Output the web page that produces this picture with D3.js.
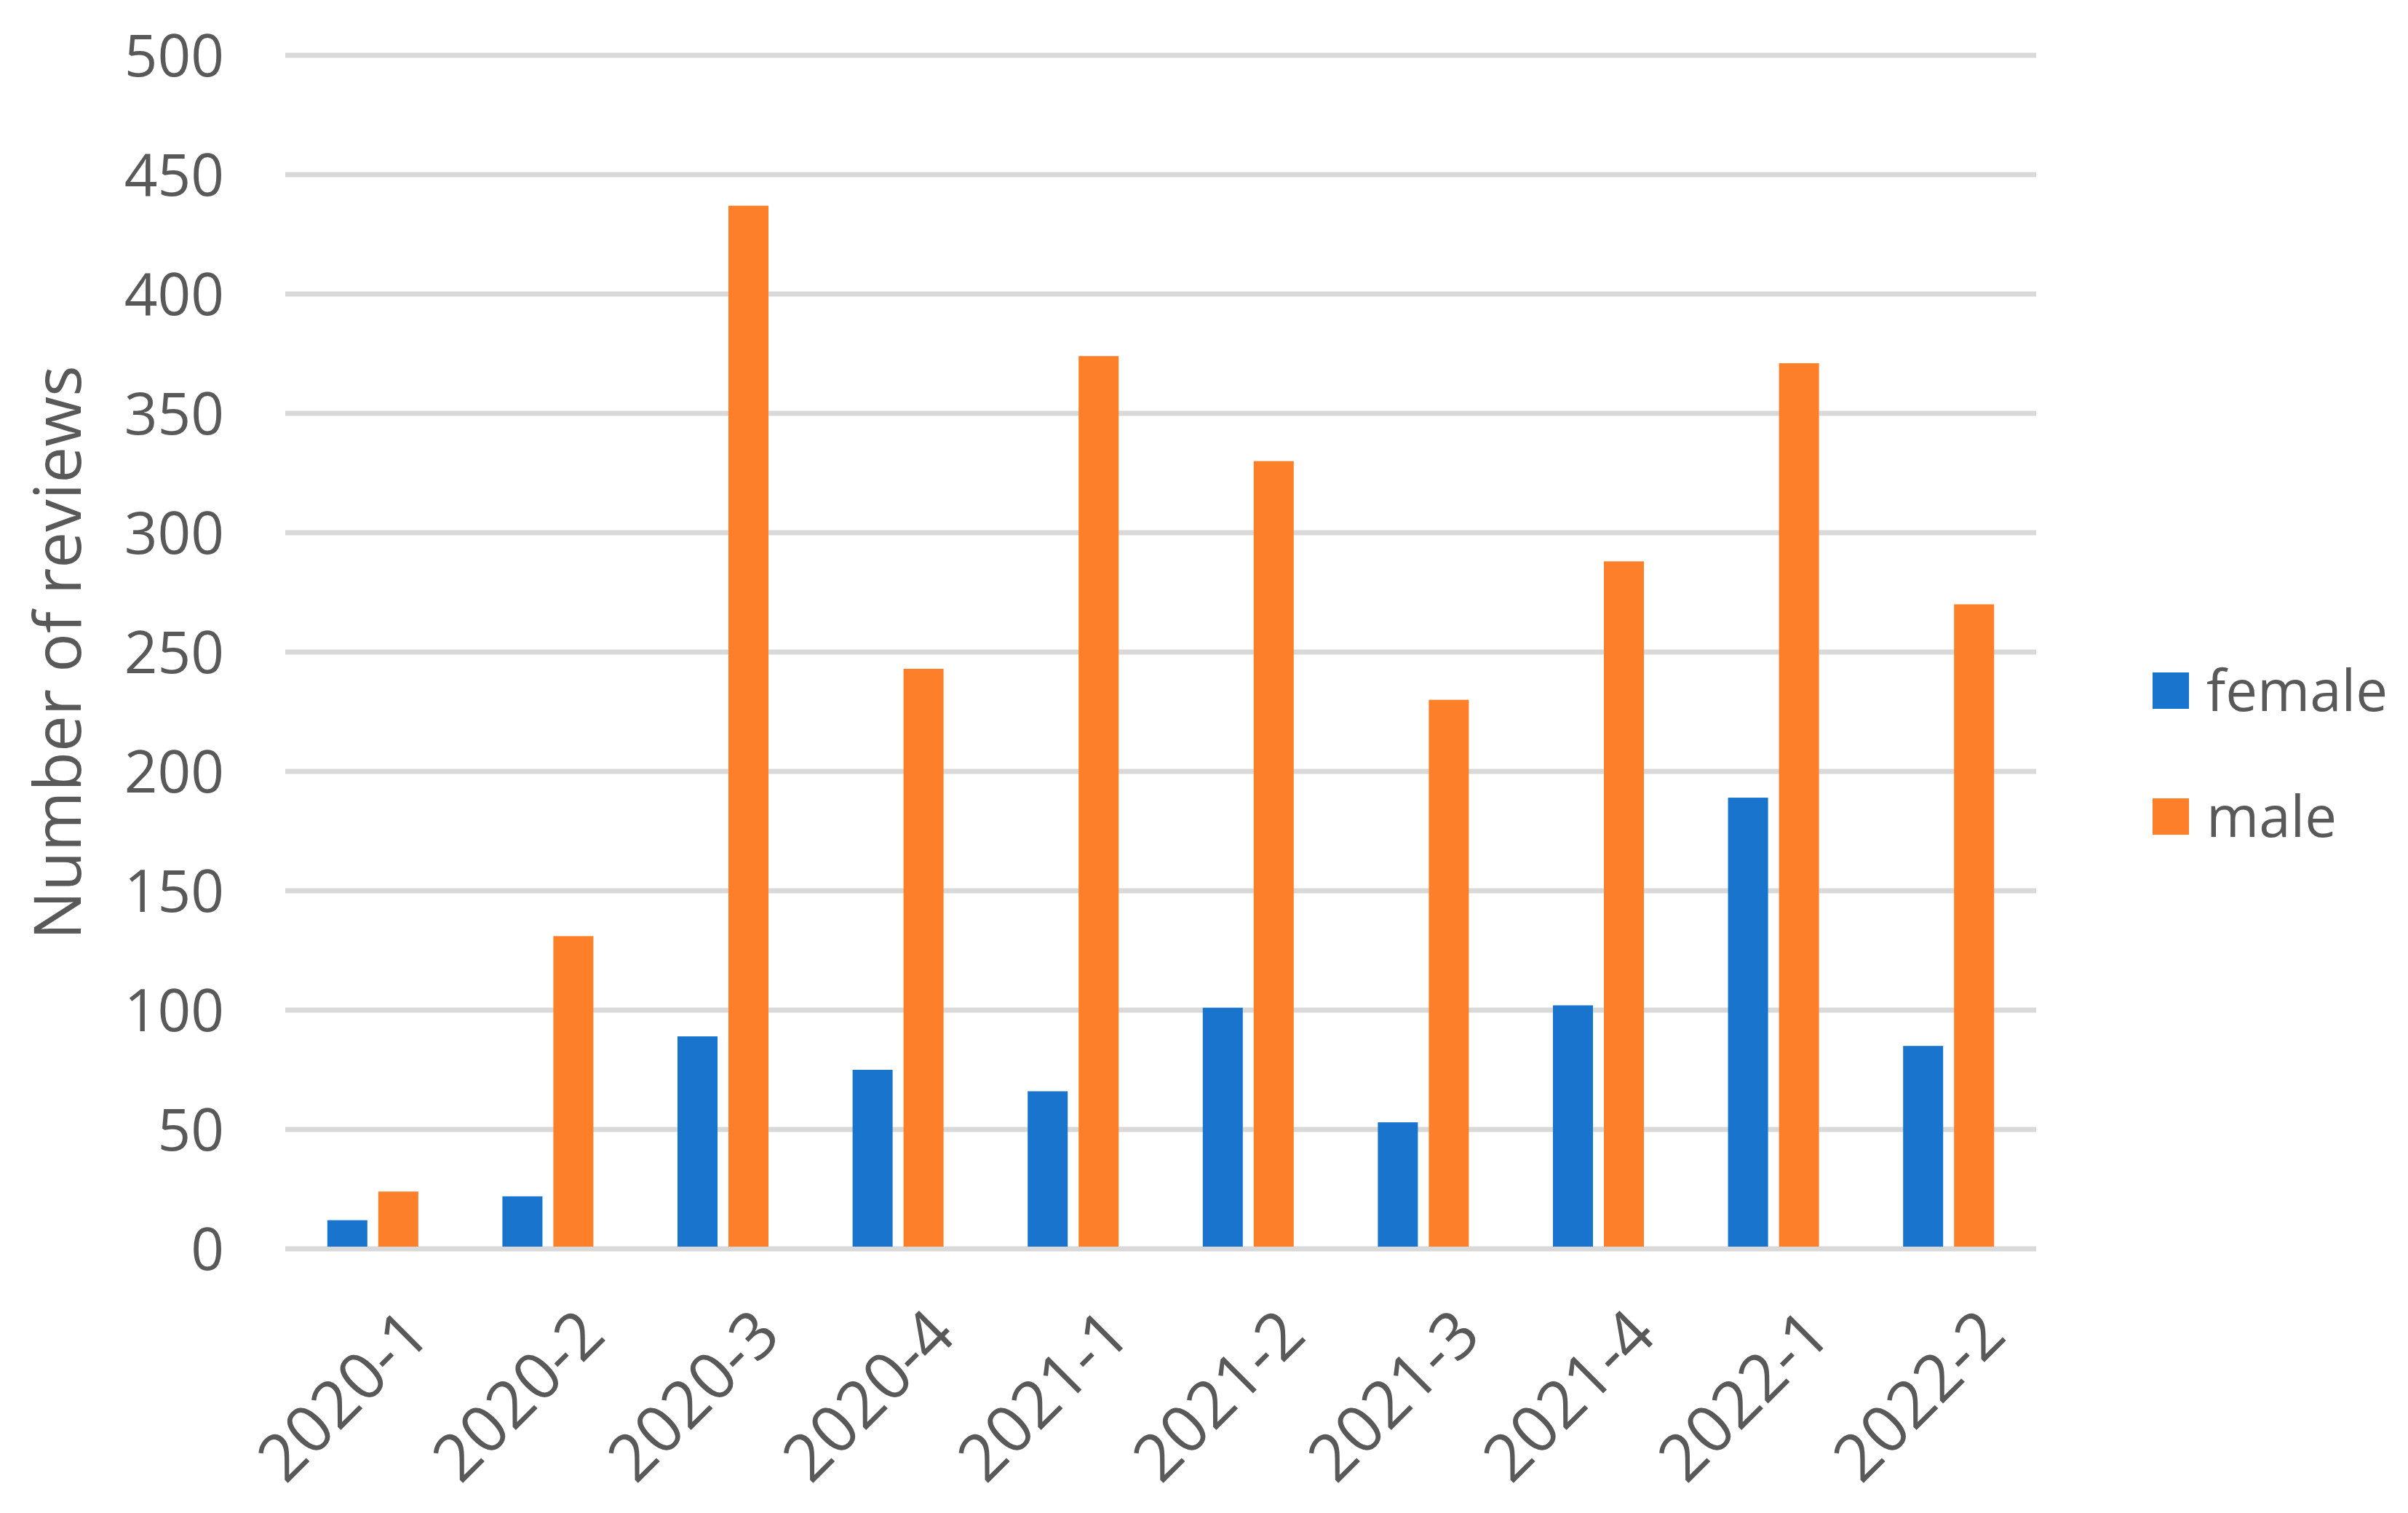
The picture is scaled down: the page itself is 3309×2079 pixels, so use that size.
<!DOCTYPE html><html><head><script src="https://cdn.jsdelivr.net/npm/d3@7"></script>
<style>body{margin:0;background:#fff}</style></head><body><svg id="c" width="3309" height="2079"></svg>
<script>
const categories=["2020-1","2020-2","2020-3","2020-4","2021-1","2021-2","2021-3","2021-4","2022-1","2022-2"];
const female=[12,22,89,75,66,101,53,102,189,85];
const male=[24,131,437,243,374,330,230,288,371,270];
const yTicks=[0,50,100,150,200,250,300,350,400,450,500];
const series=[{name:"female",values:female,color:"#1874cd"},{name:"male",values:male,color:"#fe7f2a"}];
const svg=d3.select("#c"),L=392,R=2798,T=76,B=1716,font="'Open Sans',sans-serif",tc="#595959";
const x=d3.scaleBand().domain(categories).range([L,R]);
const y=d3.scaleLinear().domain([0,500]).range([B,T]);
const bw=55,gap=15;
svg.append("g").selectAll("line").data(yTicks).join("line").attr("x1",L).attr("x2",R).attr("y1",d=>y(d)).attr("y2",d=>y(d)).attr("stroke","#d9d9d9").attr("stroke-width",7);
svg.append("g").selectAll("text").data(yTicks).join("text").attr("x",308).attr("y",d=>y(d)).attr("dy","0.36em").attr("text-anchor","end").attr("font-family",font).attr("font-size",80).attr("fill",tc).text(d=>d);
series.forEach((s,i)=>{svg.append("g").selectAll("rect").data(s.values).join("rect")
 .attr("x",(d,j)=>x(categories[j])+x.bandwidth()/2+(i===0?-(bw+gap/2):gap/2)).attr("width",bw)
 .attr("y",d=>y(d)).attr("height",d=>B-y(d)-3).attr("fill",s.color);});
svg.append("g").selectAll("text").data(categories).join("text").attr("font-family",font).attr("font-size",90).attr("fill",tc).attr("text-anchor","end")
 .attr("transform",d=>`translate(${x(d)+x.bandwidth()/2+38},${B+78}) rotate(-45)`).attr("dy","0.7em").text(d=>d);
svg.append("text").attr("transform",`translate(80,897) rotate(-90)`).attr("text-anchor","middle").attr("dy","0.35em").attr("font-family",font).attr("font-size",89).attr("fill",tc).text("Number of reviews");
series.forEach((s,i)=>{const yy=924+i*173;
 svg.append("rect").attr("x",2958).attr("y",yy).attr("width",50).attr("height",50).attr("fill",s.color);
 svg.append("text").attr("x",3032).attr("y",yy+25).attr("dy","0.36em").attr("font-family",font).attr("font-size",78).attr("fill",tc).text(s.name);});
</script></body></html>
